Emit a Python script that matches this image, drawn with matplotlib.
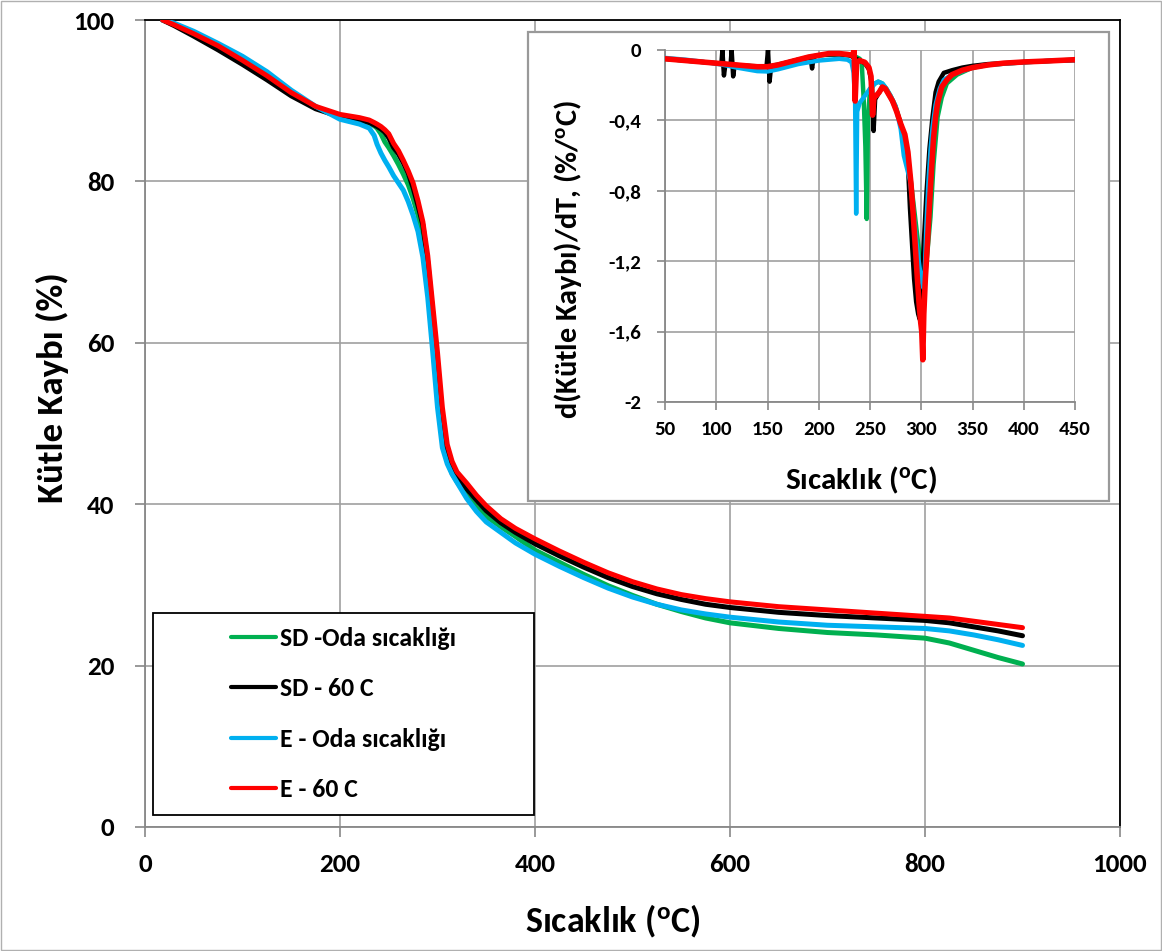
import matplotlib
matplotlib.use("Agg")
import matplotlib.pyplot as plt
from matplotlib.patches import Rectangle

# ---------------- TGA (main chart) ----------------
T_tga = [18, 30, 50, 75, 100, 125, 150, 175, 200, 220, 230, 235, 238, 242, 246, 250,
         255, 260, 265, 270, 275, 280, 285, 290, 295, 300, 305, 310, 315, 320, 330,
         340, 350, 365, 380, 400, 425, 450, 475, 500, 525, 550, 575, 600, 650, 700, 750, 800,
         825, 850, 875, 900]

sd_oda = [100, 99.5, 98.4, 96.9, 95.2, 93.3, 91.0, 89.2, 88.1, 87.6, 87.2, 86.9, 86.6, 85.9, 84.9, 84.2,
          83.2, 82.1, 80.9, 79.6, 77.9, 75.8, 72.8, 68.3, 62.3, 55.0, 48.6, 45.4, 43.8, 42.8, 41.0,
          39.6, 38.5, 37.2, 36.0, 34.3, 32.8, 31.3, 29.9, 28.7, 27.6, 26.7, 25.9, 25.3, 24.6, 24.1, 23.8, 23.4,
          22.8, 21.9, 21.0, 20.2]

sd_60 = [100, 99.3, 98.0, 96.3, 94.5, 92.6, 90.6, 89.0, 88.0, 87.6, 87.3, 87.0, 86.8, 86.5, 86.1, 85.4,
         84.2, 83.4, 82.3, 81.0, 79.2, 77.0, 74.6, 70.0, 63.8, 57.2, 50.6, 46.6, 44.7, 43.4, 41.9,
         40.5, 39.2, 37.7, 36.5, 35.1, 33.6, 32.2, 30.9, 29.8, 28.9, 28.2, 27.6, 27.2, 26.6, 26.2, 25.9, 25.6,
         25.3, 24.8, 24.3, 23.7]

e_oda = [100, 99.6, 98.6, 97.1, 95.5, 93.6, 91.3, 89.3, 87.7, 87.1, 86.6, 85.7, 84.6, 83.5, 82.6, 81.8,
         80.7, 79.8, 78.9, 77.5, 75.8, 73.8, 70.6, 65.6, 59.0, 52.0, 47.0, 45.0, 43.7, 42.7, 40.7,
         39.1, 37.8, 36.5, 35.2, 33.8, 32.3, 30.9, 29.6, 28.5, 27.6, 26.9, 26.4, 26.0, 25.4, 25.0, 24.8, 24.6,
         24.3, 23.8, 23.2, 22.5]

e_60 = [100, 99.4, 98.3, 96.8, 95.0, 93.1, 91.0, 89.3, 88.3, 87.9, 87.6, 87.3, 87.1, 86.8, 86.4, 85.9,
        84.7, 83.8, 82.6, 81.3, 79.8, 77.6, 75.0, 70.8, 64.8, 58.8, 52.0, 47.4, 45.3, 44.0, 42.6,
        41.1, 39.8, 38.2, 37.0, 35.7, 34.2, 32.8, 31.5, 30.4, 29.5, 28.8, 28.3, 27.9, 27.3, 26.9, 26.5, 26.1,
        25.9, 25.5, 25.1, 24.7]

# ---------------- DTG (inset) ----------------
T_sd_oda = [50, 70, 90, 110, 130, 150, 170, 190, 200, 220, 235, 240, 242, 244, 245.5, 246.8, 248,
            250, 255, 258, 262, 266, 270, 275, 280, 285, 290, 295, 300, 303, 306, 309, 312, 316,
            320, 325, 335, 350, 365, 380, 400, 425, 450]
d_sd_oda = [-0.05, -0.06, -0.07, -0.08, -0.09, -0.095, -0.07, -0.04, -0.03, -0.025, -0.035, -0.05,
            -0.08, -0.3, -0.55, -0.96, -0.4, -0.22, -0.19, -0.18, -0.19, -0.22, -0.26, -0.32, -0.42,
            -0.55, -0.75, -1.0, -1.25, -1.33, -1.15, -0.95, -0.65, -0.38, -0.27, -0.19, -0.14, -0.1,
            -0.085, -0.078, -0.07, -0.062, -0.055]

T_sd_60 = [50, 60, 70, 80, 90, 100, 105, 106, 107.5, 109, 114, 115, 116.5, 118, 130, 140, 149,
           150.5, 152, 153.5, 160, 170, 180, 192, 193.5, 195, 200, 210, 220, 230, 240, 245, 249,
           252, 253.5, 255, 258, 262, 266, 270, 275, 280, 284, 287, 289, 291, 293, 295, 297,
           298.5, 300, 302, 305, 308, 311, 314, 317, 322, 330, 340, 350, 365, 380, 400, 425, 450]
d_sd_60 = [-0.05, -0.055, -0.06, -0.065, -0.07, -0.075, -0.078, 0.0, -0.145, -0.08, -0.082, 0.0,
           -0.15, -0.085, -0.09, -0.095, -0.095, 0.0, -0.18, -0.095, -0.085, -0.07, -0.055, -0.045,
           -0.105, -0.04, -0.03, -0.025, -0.025, -0.03, -0.06, -0.075, -0.11, -0.2, -0.46, -0.28,
           -0.25, -0.21, -0.23, -0.27, -0.33, -0.42, -0.5, -0.65, -0.9, -1.1, -1.3, -1.43, -1.5,
           -1.53, -1.4, -1.15, -0.82, -0.56, -0.38, -0.24, -0.18, -0.13, -0.115, -0.1, -0.09,
           -0.08, -0.075, -0.068, -0.062, -0.058]

T_e_oda = [50, 60, 70, 80, 90, 100, 110, 120, 130, 140, 150, 160, 170, 180, 190, 200, 210, 220,
           228, 232, 234, 235.5, 236.5, 237.5, 240, 245, 250, 255, 258, 262, 266, 270, 275, 280,
           283, 286, 289, 292, 295, 298, 300, 302, 303.5, 305, 307, 309, 311, 314, 318, 322, 330,
           340, 350, 365, 380, 400, 425, 450]
d_e_oda = [-0.045, -0.05, -0.055, -0.062, -0.07, -0.078, -0.088, -0.1, -0.11, -0.12, -0.122, -0.11,
           -0.095, -0.08, -0.07, -0.06, -0.055, -0.05, -0.055, -0.07, -0.13, -0.3, -0.93, -0.35,
           -0.3, -0.26, -0.22, -0.19, -0.18, -0.19, -0.22, -0.26, -0.32, -0.45, -0.6, -0.67,
           -0.74, -0.9, -1.08, -1.22, -1.3, -1.35, -1.25, -1.0, -0.75, -0.57, -0.44, -0.31, -0.22,
           -0.17, -0.14, -0.12, -0.1, -0.085, -0.078, -0.07, -0.062, -0.056]

T_e_60 = [50, 60, 70, 80, 90, 100, 110, 120, 130, 140, 150, 160, 170, 180, 190, 200, 210, 220,
          228, 233, 234.5, 235.5, 237, 240, 245, 249, 251, 252.5, 254, 256, 259, 262, 265, 268,
          272, 276, 280, 284, 287, 290, 292, 294, 296, 298, 299.5, 300.5, 301.5, 302.5, 304, 306,
          308, 310, 312, 314, 316, 320, 325, 330, 340, 350, 365, 380, 400, 425, 450]
d_e_60 = [-0.05, -0.055, -0.06, -0.065, -0.07, -0.075, -0.08, -0.085, -0.09, -0.095, -0.095,
          -0.085, -0.07, -0.055, -0.04, -0.03, -0.02, -0.02, -0.025, -0.03, 0.0, -0.29, -0.07,
          -0.06, -0.07, -0.1, -0.15, -0.37, -0.26, -0.26, -0.24, -0.21, -0.22, -0.25, -0.29,
          -0.35, -0.42, -0.48, -0.58, -0.76, -0.92, -1.1, -1.28, -1.45, -1.55, -1.6, -1.76, -1.5,
          -1.3, -1.1, -0.88, -0.68, -0.5, -0.38, -0.3, -0.21, -0.17, -0.14, -0.115, -0.1, -0.085,
          -0.075, -0.068, -0.062, -0.055]

labels = ["SD -Oda sıcaklığı", "SD - 60 C", "E - Oda sıcaklığı", "E - 60 C"]
colors = ["#00B050", "#000000", "#00B0F0", "#FF0000"]

x_ticks = [0, 200, 400, 600, 800, 1000]
y_ticks = [0, 20, 40, 60, 80, 100]
ix_ticks = [50, 100, 150, 200, 250, 300, 350, 400, 450]
iy_ticks = [0, -0.4, -0.8, -1.2, -1.6, -2]
iy_labels = ["0", "-0,4", "-0,8", "-1,2", "-1,6", "-2"]

# Carlito = Calibri metrics
plt.rcParams['font.family'] = ['Carlito', 'DejaVu Sans']
plt.rcParams['font.weight'] = 'bold'
plt.rcParams['mathtext.default'] = 'regular'

W, H = 1162, 951
fig = plt.figure(figsize=(W / 100, H / 100), dpi=100)
fig.patches.append(Rectangle((0.0006, 0.0008), 0.9988, 0.9984, transform=fig.transFigure,
                             fill=False, ec="#b0b0b0", lw=1))

grid_c = "#a0a0a0"
axis_c = "#888888"

# ---------------- main axes ----------------
ax = fig.add_axes([145 / W, 1 - 827 / H, 975 / W, 807 / H])
for y, lab, c in zip([sd_oda, sd_60, e_oda, e_60], labels, colors):
    ax.plot(T_tga, y, color=c, lw=3.6, label=lab, solid_capstyle="round", zorder=3)

ax.set_xlim(0, 1000)
ax.set_ylim(0, 100)
ax.set_xticks(x_ticks)
ax.set_yticks(y_ticks)
ax.grid(True, color=grid_c, lw=1.2, zorder=0)
ax.tick_params(direction="out", length=7, width=1.2, color=axis_c, labelsize=19.5)
ax.tick_params(axis="x", pad=12)
ax.tick_params(axis="y", pad=15)
for s in ["left", "bottom"]:
    ax.spines[s].set_color(axis_c)
    ax.spines[s].set_linewidth(1.3)
for s in ["top", "right"]:
    ax.spines[s].set_color("black")
    ax.spines[s].set_linewidth(1.3)

ax.set_xlabel("Sıcaklık ($^{o}$C)", fontsize=26, fontweight="bold", va="center")
ax.xaxis.set_label_coords(0.48, -0.1165)
ax.set_ylabel("Kütle Kaybı (%)", fontsize=26.5, fontweight="bold", va="center")
ax.yaxis.set_label_coords(-0.0954, 0.545)

# legend box
ax.add_patch(Rectangle((0.0082, 0.0149), 0.391, 0.25, transform=ax.transAxes,
                       fill=True, fc="white", ec="black", lw=1.3, zorder=4))
leg = ax.legend(loc="center", bbox_to_anchor=(0.2036, 0.140), frameon=False,
                prop={"size": 18.5, "weight": "bold"},
                handlelength=1.75, handletextpad=0.12, labelspacing=1.07)
leg.set_zorder(5)
for h in leg.get_lines():
    h.set_linewidth(3.0)

# ---------------- inset ----------------
fig.patches.append(Rectangle((528 / W, 1 - 501 / H), 581 / W, 469 / H, transform=fig.transFigure,
                             fc="white", ec="#999999", lw=1.6, zorder=2))
ins = fig.add_axes([665 / W, 1 - 402 / H, 410 / W, 352 / H], zorder=3)
ins.patch.set_alpha(0)
ins.plot(T_sd_oda, d_sd_oda, color=colors[0], lw=3.2, zorder=3)
ins.plot(T_sd_60, d_sd_60, color=colors[1], lw=3.2, zorder=3)
ins.plot(T_e_oda, d_e_oda, color=colors[2], lw=3.2, zorder=3)
ins.plot(T_e_60, d_e_60, color=colors[3], lw=4.0, zorder=4)
ins.set_xlim(50, 450)
ins.set_ylim(-2, 0)
ins.set_xticks(ix_ticks)
ins.set_yticks(iy_ticks)
ins.set_yticklabels(iy_labels)
ins.grid(True, color=grid_c, lw=1.2, zorder=0)
ins.tick_params(direction="out", length=6, width=1.2, color=axis_c, labelsize=15)
ins.tick_params(axis="x", pad=8)
ins.tick_params(axis="y", pad=11)
for s in ["left", "bottom"]:
    ins.spines[s].set_color(axis_c)
    ins.spines[s].set_linewidth(1.3)
for s in ["top", "right"]:
    ins.spines[s].set_visible(False)
ins.set_xlabel("Sıcaklık ($^{o}$C)", fontsize=22.5, fontweight="bold", va="center")
ins.xaxis.set_label_coords(0.478, -0.224)
ins.set_ylabel("d(Kütle Kaybı)/dT, (%/$^{o}$C)", fontsize=21.8, fontweight="bold", va="center")
ins.yaxis.set_label_coords(-0.237, 0.405)

for t in ax.get_xticklabels() + ax.get_yticklabels() + ins.get_xticklabels() + ins.get_yticklabels():
    t.set_fontweight("bold")

fig.savefig("out.png", dpi=100)
